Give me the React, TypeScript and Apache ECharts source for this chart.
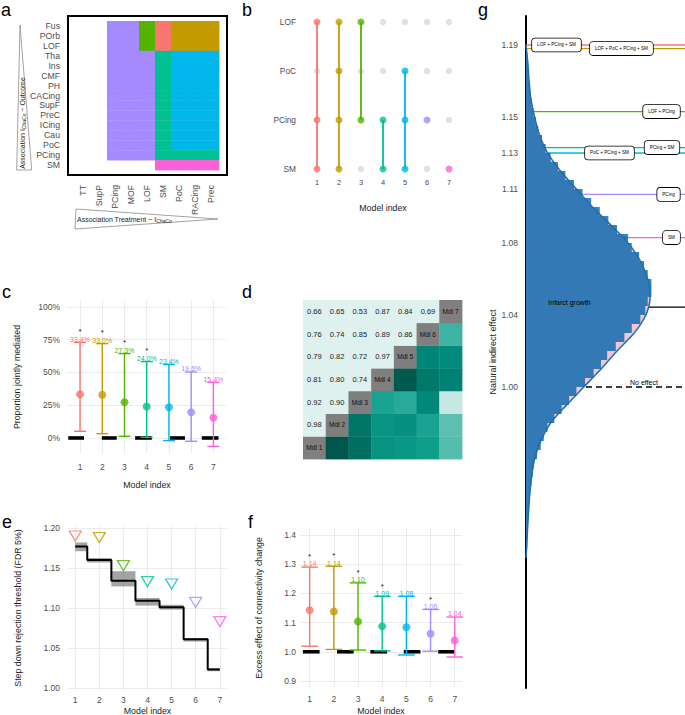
import React, { useEffect, useRef } from 'react';
import * as echarts from 'echarts';

const FONT = '"Liberation Sans", Arial, Helvetica, sans-serif';
const TICK = '#4D4D4D';
const GRID_LINE = '#EBEBEB';

// ---------- shared ----------
const modelIndex = [1, 2, 3, 4, 5, 6, 7];
const modelColors = ['#F8766D', '#C49A00', '#53B400', '#00C094', '#00B6EB', '#A58AFF', '#FB61D7'];

// ---------- panel a ----------
const treatments = ['TT', 'SupP', 'PCing', 'MOF', 'LOF', 'SM', 'PoC', 'RACing', 'Prec'];
const outcomes = ['Fus', 'POrb', 'LOF', 'Tha', 'Ins', 'CMF', 'PH', 'CACing', 'SupF', 'PreC', 'ICing', 'Cau', 'PoC', 'PCing', 'SM'];
const cellModel = [
  [0, 0, 6, 6, 3, 1, 2, 2, 2],
  [0, 0, 6, 6, 3, 1, 2, 2, 2],
  [0, 0, 6, 6, 3, 1, 2, 2, 2],
  [0, 0, 6, 6, 6, 4, 5, 5, 5],
  [0, 0, 6, 6, 6, 4, 5, 5, 5],
  [0, 0, 6, 6, 6, 4, 5, 5, 5],
  [0, 0, 6, 6, 6, 4, 5, 5, 5],
  [0, 0, 6, 6, 6, 4, 5, 5, 5],
  [0, 0, 6, 6, 6, 4, 5, 5, 5],
  [0, 0, 6, 6, 6, 4, 5, 5, 5],
  [0, 0, 6, 6, 6, 4, 5, 5, 5],
  [0, 0, 6, 6, 6, 4, 5, 5, 5],
  [0, 0, 6, 6, 6, 4, 5, 5, 5],
  [0, 0, 6, 6, 6, 4, 4, 4, 4],
  [0, 0, 0, 0, 0, 7, 7, 7, 7],
];

// ---------- panel b ----------
const regionLevels = ['SM', 'PCing', 'PoC', 'LOF'];
const modelRegions = [
  ['LOF', 'PCing', 'SM'],
  ['LOF', 'PoC', 'PCing', 'SM'],
  ['LOF', 'PCing'],
  ['PCing', 'SM'],
  ['PoC', 'PCing', 'SM'],
  ['PCing'],
  ['SM'],
];

// ---------- panel c ----------
const propEst = [33.4, 33.0, 27.3, 24.0, 23.4, 19.6, 15.4];
const propLo = [5.1, 3.3, 1.3, 0.5, -2.0, -2.5, -6.4];
const propHi = [73.0, 72.0, 64.4, 58.3, 56.2, 50.4, 42.5];
const propSig = [true, true, true, true, false, false, false];
const propNullBars = [[0.47, 1.18], [1.98, 2.65], [3.48, 4.23], [5.05, 5.72], [6.48, 7.23]];
const propTicks = [0, 25, 50, 75, 100];

// ---------- panel d ----------
const overlapPairs = [
  [1, 2, 0.98], [1, 3, 0.92], [2, 3, 0.90],
  [1, 4, 0.81], [2, 4, 0.80], [3, 4, 0.74],
  [1, 5, 0.79], [2, 5, 0.82], [3, 5, 0.72], [4, 5, 0.97],
  [1, 6, 0.76], [2, 6, 0.74], [3, 6, 0.85], [4, 6, 0.89], [5, 6, 0.86],
  [1, 7, 0.66], [2, 7, 0.65], [3, 7, 0.53], [4, 7, 0.87], [5, 7, 0.84], [6, 7, 0.69],
];

// ---------- panel e ----------
const stepThreshold = [1.177, 1.160, 1.134, 1.109, 1.101, 1.061, 1.023];
const stepLo = [1.171, 1.157, 1.127, 1.103, 1.098, 1.058, 1.021];
const stepHi = [1.182, 1.1625, 1.146, 1.1125, 1.104, 1.0625, 1.025];
const modelEffect = [1.190, 1.188, 1.153, 1.133, 1.130, 1.107, 1.083];
const stepTicks = [1.0, 1.05, 1.1, 1.15, 1.2];

// ---------- panel f ----------
const excessEst = [1.142, 1.138, 1.104, 1.087, 1.084, 1.062, 1.039];
const excessLo = [1.019, 1.008, 1.006, 1.003, 0.989, 1.002, 0.982];
const excessHi = [1.290, 1.293, 1.236, 1.190, 1.190, 1.145, 1.119];
const excessSig = [true, true, true, true, false, true, false];
const excessNullBars = [[0.72, 1.41], [2.13, 2.82], [3.51, 4.2], [4.89, 5.58], [6.31, 7.0]];
const excessTicks = [0.9, 1.0, 1.1, 1.2, 1.3, 1.4];

// ---------- panel g ----------
const histStart = 0.905;
const histWidth = 0.005;
const histDensity = [
  0.08, 0.1, 0.12, 0.15, 0.2, 0.25, 0.3, 0.35, 0.45,
  0.55, 0.65, 0.9, 1.2, 1.45, 1.75, 2.3, 2.9, 3.5, 4.1,
  4.8, 5.5, 6.1, 6.6, 7.3, 8.0, 8.6, 9.3, 9.7, 9.9,
  10.2, 10.2, 9.9, 9.6, 9.2, 8.6, 8.3, 7.4, 6.7, 6.0,
  5.3, 4.6, 3.9, 3.2, 2.6, 2.0, 1.6, 1.3, 1.0, 0.8,
  0.6, 0.45, 0.35, 0.28, 0.22, 0.17, 0.12, 0.08,
];
const densityCurve = [
  [0, 1.190], [0.15, 1.180], [0.25, 1.170], [0.4, 1.160], [0.7, 1.150], [1.1, 1.140],
  [1.75, 1.130], [2.8, 1.120], [4.1, 1.110], [5.4, 1.100], [6.9, 1.090], [8.3, 1.080],
  [9.3, 1.070], [9.9, 1.060], [10.1, 1.052], [10.0, 1.045], [9.6, 1.038], [8.8, 1.030],
  [7.4, 1.020], [6.1, 1.010], [4.7, 1.000], [3.3, 0.990], [2.0, 0.980], [1.2, 0.970],
  [0.7, 0.960], [0.45, 0.950], [0.3, 0.940], [0.2, 0.930], [0.12, 0.920], [0.06, 0.912],
  [0, 0.905],
];
const nieTicks = [1.0, 1.04, 1.08, 1.11, 1.13, 1.15, 1.19];
const comboLabelAt = [2.48, 7.76, 11.02, 11.06, 6.79, 11.59, 11.83];
const regionOrder = ['LOF', 'PoC', 'PCing', 'SM'];
const refNames = ['Infarct growth', 'No effect'];
const refValues = [1.0444, 1.0];
const refLabelAt = [3.54, 9.59];

// ---------- helpers ----------
const tealStops: [number, number[]][] = [
  [0.5, [224, 242, 241]],
  [0.65, [92, 191, 178]],
  [0.75, [18, 160, 142]],
  [0.85, [0, 137, 122]],
  [0.98, [0, 86, 74]],
  [1.0, [0, 79, 67]],
];
function tealFor(v: number) {
  let i = 0;
  while (i < tealStops.length - 2 && v > tealStops[i + 1][0]) i++;
  const [v0, c0] = tealStops[i];
  const [v1, c1] = tealStops[i + 1];
  const t = Math.max(0, Math.min(1, (v - v0) / (v1 - v0)));
  const c = c0.map((x, k) => Math.round(x + (c1[k] - x) * t));
  return `rgb(${c[0]},${c[1]},${c[2]})`;
}

function errBarRender(labels: string[], sig: boolean[], capHalf: number, starGap: number) {
  return (params: any, api: any) => {
    const i = params.dataIndex;
    const x = api.value(0);
    const pl = api.coord([x, api.value(1)]);
    const ph = api.coord([x, api.value(2)]);
    const col = modelColors[i];
    const ls = { stroke: col, lineWidth: 1.4 };
    const children: any[] = [
      { type: 'line', shape: { x1: pl[0], y1: pl[1], x2: ph[0], y2: ph[1] }, style: ls },
      { type: 'line', shape: { x1: pl[0] - capHalf, y1: pl[1], x2: pl[0] + capHalf, y2: pl[1] }, style: ls },
      { type: 'line', shape: { x1: ph[0] - capHalf, y1: ph[1], x2: ph[0] + capHalf, y2: ph[1] }, style: ls },
      {
        type: 'text', x: ph[0], y: ph[1] + 0.3,
        style: { text: labels[i], fill: col, fontSize: 7, fontFamily: FONT, align: 'center', verticalAlign: 'bottom' },
      },
    ];
    if (sig[i]) {
      children.push({
        type: 'text', x: ph[0], y: ph[1] - starGap,
        style: { text: '*', fill: '#222', fontSize: 8, fontFamily: FONT, align: 'center', verticalAlign: 'bottom' },
      });
    }
    return { type: 'group', children };
  };
}

function nullBarRender(params: any, api: any) {
  const a = api.coord([api.value(0), api.value(2)]);
  const b = api.coord([api.value(1), api.value(2)]);
  return { type: 'rect', shape: { x: a[0], y: a[1] - 1.8, width: b[0] - a[0], height: 3.6 }, style: { fill: '#000' } };
}

function buildOption() {
  // ---- a data
  const aData: number[][] = [];
  cellModel.forEach((row, r) => row.forEach((m, c) => { if (m) aData.push([c, r, m]); }));

  // ---- b data
  const bGray: number[][] = [];
  const bActive: any[] = [];
  modelRegions.forEach((regs, i) => {
    regionLevels.forEach((r, j) => {
      if (regs.includes(r)) bActive.push({ value: [i, j], itemStyle: { color: modelColors[i] } });
      else bGray.push([i, j]);
    });
  });
  const bLines = modelRegions.map((regs, i) => ({
    type: 'line', xAxisIndex: 1, yAxisIndex: 1, symbol: 'none', silent: true, z: 2,
    lineStyle: { color: modelColors[i], width: 1.8 },
    data: regs.map((r) => [i, regionLevels.indexOf(r)]).sort((p, q) => p[1] - q[1]),
  }));

  // ---- d data
  const corr = (i: number, j: number) => {
    const f = overlapPairs.find((p) => p[0] === i && p[1] === j);
    return f ? f[2] : 0;
  };
  const dData: number[][] = [];
  for (let r = 1; r <= 7; r++) {
    for (let c = 1; c <= 7; c++) {
      if (c < r) dData.push([c - 1, r - 1, corr(c, r), 0]);
      else if (c === r) dData.push([c - 1, r - 1, r, 1]);
      else dData.push([c - 1, r - 1, corr(r, c), 2]);
    }
  }

  const valueAxisBase = (gi: number, min: number, max: number, ticks: number[], fmt: (v: number) => string, margin: number) => ({
    gridIndex: gi, type: 'value', min, max,
    axisLine: { show: false },
    axisTick: { show: false, customValues: ticks },
    axisLabel: { customValues: ticks, formatter: fmt, color: TICK, fontSize: 8.5, fontFamily: FONT, margin },
    splitLine: { show: true, lineStyle: { color: GRID_LINE, width: 1 } },
  });

  const grids = [
    { left: 75, top: 21, width: 144, height: 149 },
    { left: 306, top: 22, width: 154, height: 147 },
    { left: 66.7, top: 300.4, width: 160, height: 153.3 },
    { left: 303, top: 300, width: 159, height: 159 },
    { left: 68, top: 525.6, width: 159, height: 164.8 },
    { left: 300, top: 528, width: 162, height: 158.8 },
    { left: 526, top: 16, width: 159, height: 672 },
  ].map((g) => ({ ...g, containLabel: false, outerBoundsMode: 'none', show: false }));

  const xAxis: any[] = [
    {
      gridIndex: 0, type: 'category', data: treatments, boundaryGap: true,
      axisLine: { show: false }, axisTick: { show: false },
      axisLabel: { rotate: 90, color: TICK, fontSize: 8.7, fontFamily: FONT, margin: 15, interval: 0 },
      splitLine: { show: false },
    },
    {
      gridIndex: 1, type: 'category', data: modelIndex.map(String), boundaryGap: true,
      axisLine: { show: false }, axisTick: { show: false },
      axisLabel: { color: TICK, fontSize: 7.5, fontFamily: FONT, margin: 9 },
      splitLine: { show: false },
    },
    valueAxisBase(2, 0.4, 7.6, modelIndex, (v) => String(v), 9),
    { gridIndex: 3, type: 'category', data: modelIndex.map(String), show: false },
    valueAxisBase(4, 0.7, 7.3, modelIndex, (v) => String(v), 5.5),
    valueAxisBase(5, 0.6, 7.3, modelIndex, (v) => String(v), 8),
    { gridIndex: 6, type: 'value', min: 0, max: 12.93, show: false },
  ];
  const yAxis: any[] = [
    {
      gridIndex: 0, type: 'category', data: outcomes, inverse: true, boundaryGap: true,
      axisLine: { show: false }, axisTick: { show: false },
      axisLabel: { color: TICK, fontSize: 8.7, fontFamily: FONT, margin: 15, interval: 0 },
      splitLine: { show: false },
    },
    {
      gridIndex: 1, type: 'category', data: regionLevels, boundaryGap: false,
      axisLine: { show: false }, axisTick: { show: false },
      axisLabel: { color: TICK, fontSize: 8.3, fontFamily: FONT, margin: 10 },
      splitLine: { show: false },
    },
    valueAxisBase(2, -12, 105, propTicks, (v) => `${v}%`, 6.7),
    { gridIndex: 3, type: 'category', data: modelIndex.map(String), show: false },
    valueAxisBase(4, 0.997, 1.203, stepTicks, (v) => v.toFixed(2), 8),
    valueAxisBase(5, 0.88, 1.424, excessTicks, (v) => v.toFixed(1), 4),
    {
      gridIndex: 6, type: 'value', min: 0.8328, max: 1.2061,
      axisLine: { show: true, onZero: false, lineStyle: { color: '#000', width: 2 } },
      axisTick: { show: false, customValues: nieTicks },
      axisLabel: { customValues: nieTicks, formatter: (v: number) => v.toFixed(2), color: TICK, fontSize: 8.5, fontFamily: FONT, margin: 8 },
      splitLine: { show: false },
    },
  ];

  const series: any[] = [
    // ---- a
    {
      type: 'custom', xAxisIndex: 0, yAxisIndex: 0, data: aData, encode: { x: 0, y: 1 }, silent: true,
      renderItem: (params: any, api: any) => {
        const p = api.coord([api.value(0), api.value(1)]);
        const s = api.size([1, 1]);
        return {
          type: 'rect',
          shape: { x: p[0] - s[0] / 2, y: p[1] - s[1] / 2, width: s[0] + 0.4, height: s[1] + 0.4 },
          style: { fill: modelColors[api.value(2) - 1] },
        };
      },
    },
    // ---- b
    {
      type: 'scatter', xAxisIndex: 1, yAxisIndex: 1, data: bGray, symbolSize: 6.5, silent: true, z: 1,
      itemStyle: { color: '#D9D9D9' },
    },
    ...bLines,
    {
      type: 'scatter', xAxisIndex: 1, yAxisIndex: 1, data: bActive, symbolSize: 7, silent: true, z: 3,
    },
    // ---- c
    {
      type: 'custom', xAxisIndex: 2, yAxisIndex: 2, silent: true, encode: { x: [0, 1], y: 2 },
      data: propNullBars.map(([a, b]) => [a, b, 0]), renderItem: nullBarRender, z: 1,
    },
    {
      type: 'custom', xAxisIndex: 2, yAxisIndex: 2, silent: true, encode: { x: 0, y: [1, 2] }, z: 2,
      data: modelIndex.map((m, i) => [m, propLo[i], propHi[i]]),
      renderItem: errBarRender(propEst.map((v) => `${v.toFixed(1)}%`), propSig, 6, 7.2),
    },
    {
      type: 'scatter', xAxisIndex: 2, yAxisIndex: 2, symbolSize: 8, silent: true, z: 3,
      data: modelIndex.map((m, i) => ({ value: [m, propEst[i]], itemStyle: { color: modelColors[i] } })),
    },
    // ---- d
    {
      type: 'custom', xAxisIndex: 3, yAxisIndex: 3, data: dData, encode: { x: 0, y: 1 }, silent: true,
      renderItem: (params: any, api: any) => {
        const p = api.coord([api.value(0), api.value(1)]);
        const s = api.size([1, 1]);
        const kind = api.value(3);
        const v = api.value(2);
        const fill = kind === 0 ? '#DFF1EF' : kind === 1 ? '#7F7F7F' : tealFor(v);
        const children: any[] = [
          { type: 'rect', shape: { x: p[0] - s[0] / 2, y: p[1] - s[1] / 2, width: s[0] + 0.4, height: s[1] + 0.4 }, style: { fill } },
        ];
        if (kind === 0) {
          children.push({ type: 'text', x: p[0], y: p[1], style: { text: v.toFixed(2), fill: '#222', fontSize: 7.5, fontFamily: FONT, align: 'center', verticalAlign: 'middle' } });
        } else if (kind === 1) {
          children.push({ type: 'text', x: p[0], y: p[1], style: { text: `Mdl ${v}`, fill: '#111', fontSize: 6.6, fontFamily: FONT, align: 'center', verticalAlign: 'middle' } });
        }
        return { type: 'group', children };
      },
    },
    // ---- e
    {
      type: 'custom', xAxisIndex: 4, yAxisIndex: 4, silent: true, encode: { x: [0, 1], y: [2, 3] }, z: 1,
      data: stepThreshold.map((_, i) => [i === 0 ? 1 : i + 0.5, i === 6 ? 7 : i + 1.5, stepLo[i], stepHi[i]]),
      renderItem: (params: any, api: any) => {
        const a = api.coord([api.value(0), api.value(3)]);
        const b = api.coord([api.value(1), api.value(2)]);
        return { type: 'rect', shape: { x: a[0], y: a[1], width: b[0] - a[0], height: Math.max(b[1] - a[1], 1) }, style: { fill: 'rgba(90,90,90,0.55)' } };
      },
    },
    {
      type: 'line', xAxisIndex: 4, yAxisIndex: 4, step: 'middle', symbol: 'none', silent: true, z: 2,
      lineStyle: { color: '#000', width: 2 },
      data: modelIndex.map((m, i) => [m, stepThreshold[i]]),
    },
    {
      type: 'scatter', xAxisIndex: 4, yAxisIndex: 4, symbol: 'triangle', symbolRotate: 180, symbolSize: [12, 10], silent: true, z: 3,
      data: modelIndex.map((m, i) => ({
        value: [m, modelEffect[i]],
        itemStyle: { color: 'rgba(255,255,255,0)', borderColor: modelColors[i], borderWidth: 1.3 },
      })),
    },
    // ---- f
    {
      type: 'custom', xAxisIndex: 5, yAxisIndex: 5, silent: true, encode: { x: [0, 1], y: 2 },
      data: excessNullBars.map(([a, b]) => [a, b, 1]), renderItem: nullBarRender, z: 1,
    },
    {
      type: 'custom', xAxisIndex: 5, yAxisIndex: 5, silent: true, encode: { x: 0, y: [1, 2] }, z: 2,
      data: modelIndex.map((m, i) => [m, excessLo[i], excessHi[i]]),
      renderItem: errBarRender(excessEst.map((v) => v.toFixed(2)), excessSig, 8.3, 6.3),
    },
    {
      type: 'scatter', xAxisIndex: 5, yAxisIndex: 5, symbolSize: 8, silent: true, z: 3,
      data: modelIndex.map((m, i) => ({ value: [m, excessEst[i]], itemStyle: { color: modelColors[i] } })),
    },
    // ---- g
    {
      type: 'custom', xAxisIndex: 6, yAxisIndex: 6, silent: true, encode: { x: 0, y: 1 }, z: 1,
      data: modelEffect.map((v) => [0, v]),
      renderItem: (params: any, api: any) => {
        const y = api.coord([0, api.value(1)])[1];
        const cs = params.coordSys;
        return { type: 'line', shape: { x1: cs.x, y1: y, x2: cs.x + cs.width, y2: y }, style: { stroke: modelColors[params.dataIndex], lineWidth: 1.3 } };
      },
    },
    {
      type: 'custom', xAxisIndex: 6, yAxisIndex: 6, silent: true, encode: { x: 0, y: 1 }, z: 1,
      data: refValues.map((v) => [0, v]),
      renderItem: (params: any, api: any) => {
        const y = api.coord([0, api.value(1)])[1];
        const cs = params.coordSys;
        const dashed = params.dataIndex === 1;
        return {
          type: 'line', shape: { x1: cs.x, y1: y, x2: cs.x + cs.width, y2: y },
          style: { stroke: '#000', lineWidth: dashed ? 1.4 : 1.2, lineDash: dashed ? [6, 4] : null },
        };
      },
    },
    {
      type: 'custom', xAxisIndex: 6, yAxisIndex: 6, silent: true, encode: { x: 0, y: 1 }, z: 2,
      data: densityCurve,
      renderItem: (params: any, api: any) => {
        if (params.dataIndex !== 0) return null;
        const pts: number[][] = [];
        for (let j = 0; j < densityCurve.length; j++) pts.push(api.coord([api.value(0, j), api.value(1, j)]));
        return { type: 'polygon', shape: { points: pts }, style: { fill: '#F9C3CB' } };
      },
    },
    {
      // histogram as one stepped outline (no seams between bins)
      type: 'custom', xAxisIndex: 6, yAxisIndex: 6, silent: true, encode: { x: 2, y: [0, 1] }, z: 3,
      data: histDensity.map((d, i) => [histStart + i * histWidth, histStart + (i + 1) * histWidth, d]),
      renderItem: (params: any, api: any) => {
        if (params.dataIndex !== 0) return null;
        const n = histDensity.length;
        const pts: number[][] = [api.coord([0, api.value(0, 0)])];
        for (let j = 0; j < n; j++) {
          pts.push(api.coord([api.value(2, j), api.value(0, j)]));
          pts.push(api.coord([api.value(2, j), api.value(1, j)]));
        }
        pts.push(api.coord([0, api.value(1, n - 1)]));
        return { type: 'polygon', shape: { points: pts }, style: { fill: 'rgba(1,102,176,0.8)' } };
      },
    },
    {
      type: 'line', xAxisIndex: 6, yAxisIndex: 6, symbol: 'none', smooth: 0.3, silent: true, z: 4,
      lineStyle: { color: '#1B6FB0', width: 1.5 },
      data: densityCurve,
    },
    {
      type: 'custom', xAxisIndex: 6, yAxisIndex: 6, silent: true, encode: { x: 0, y: 1 }, z: 5,
      data: modelEffect.map((v, i) => [comboLabelAt[i], v]),
      renderItem: (params: any, api: any) => {
        const p = api.coord([api.value(0), api.value(1)]);
        const regs = regionOrder.filter((r) => modelRegions[params.dataIndex].includes(r));
        return {
          type: 'text', x: p[0], y: p[1],
          style: {
            text: regs.join(' + '), fill: '#000', fontSize: 4.6, fontFamily: FONT, align: 'center', verticalAlign: 'middle',
            backgroundColor: '#fff', borderColor: '#000', borderWidth: 0.8, borderRadius: 3, padding: [4, 5],
          },
        };
      },
    },
    {
      type: 'custom', xAxisIndex: 6, yAxisIndex: 6, silent: true, encode: { x: 0, y: 1 }, z: 5,
      data: refValues.map((v, i) => [refLabelAt[i], v]),
      renderItem: (params: any, api: any) => {
        const p = api.coord([api.value(0), api.value(1)]);
        return {
          type: 'text', x: p[0], y: p[1] - 1.5,
          style: { text: refNames[params.dataIndex], fill: '#000', fontSize: 7, fontFamily: FONT, align: 'center', verticalAlign: 'bottom' },
        };
      },
    },
  ];

  const letter = (t: string, x: number, y: number) => ({
    type: 'text', x, y, style: { text: t, fontSize: 18, fontFamily: FONT, fill: '#000', verticalAlign: 'middle' },
  });
  const title = (t: string, x: number, y: number, vertical: boolean, size = 8.8) => ({
    type: 'text', x, y, rotation: vertical ? Math.PI / 2 : 0,
    style: { text: t, fontSize: size, fontFamily: FONT, fill: '#1A1A1A', align: 'center', verticalAlign: 'middle' },
  });

  const graphic = {
    elements: [
      letter('a', 1, 9.8), letter('b', 242, 9.8), letter('g', 478, 9.8),
      letter('c', 2, 291.7), letter('d', 242, 291.7),
      letter('e', 2, 521.7), letter('f', 248, 521.7),
      { type: 'rect', shape: { x: 68, y: 16, width: 159, height: 159 }, style: { fill: 'none', stroke: '#000', lineWidth: 2 } },
      { type: 'polygon', shape: { points: [[20, 25], [16.7, 170], [31.7, 170]] }, style: { fill: 'none', stroke: '#8C8C8C', lineWidth: 0.8 } },
      { type: 'polygon', shape: { points: [[76, 209], [75, 229], [218, 219]] }, style: { fill: 'none', stroke: '#8C8C8C', lineWidth: 0.8 } },
      {
        type: 'text', x: 22, y: 123, rotation: Math.PI / 2,
        style: {
          text: '{n|Association I}{s|ChaCo}{n| ~ Outcome}', align: 'center', verticalAlign: 'middle',
          rich: { n: { fontSize: 7, fontFamily: FONT, fill: '#222' }, s: { fontSize: 5, fontFamily: FONT, fill: '#222', padding: [3, 0, 0, 0] } },
        },
      },
      {
        type: 'text', x: 77, y: 219,
        style: {
          text: '{n|Association Treatment ~ I}{s|ChaCo}', align: 'left', verticalAlign: 'middle',
          rich: { n: { fontSize: 7, fontFamily: FONT, fill: '#222' }, s: { fontSize: 5, fontFamily: FONT, fill: '#222', padding: [3, 0, 0, 0] } },
        },
      },
      title('Model index', 383, 208, false),
      title('Model index', 147, 485, false),
      title('Model index', 147.5, 711, false),
      title('Model index', 381, 711, false),
      title('Proportion jointly mediated', 17, 377, true),
      title('Step down rejection threshold (FDR 5%)', 17.5, 608, true),
      title('Excess effect of connectivity change', 259, 608, true),
      title('Natural indirect effect', 493, 352, true, 9),
    ],
  };

  return {
    animation: false,
    backgroundColor: '#fff',
    textStyle: { fontFamily: FONT },
    grid: grids,
    xAxis,
    yAxis,
    series,
    graphic,
  };
}

export default function App() {
  const ref = useRef<HTMLDivElement>(null);
  useEffect(() => {
    if (!ref.current) return;
    const chart = echarts.init(ref.current, null, { renderer: 'svg' });
    chart.setOption(buildOption() as any);
    return () => chart.dispose();
  }, []);
  return (
    <div
      ref={ref}
      style={{ position: 'fixed', left: 0, top: 0, width: 685, height: 715, background: '#fff' }}
    />
  );
}
